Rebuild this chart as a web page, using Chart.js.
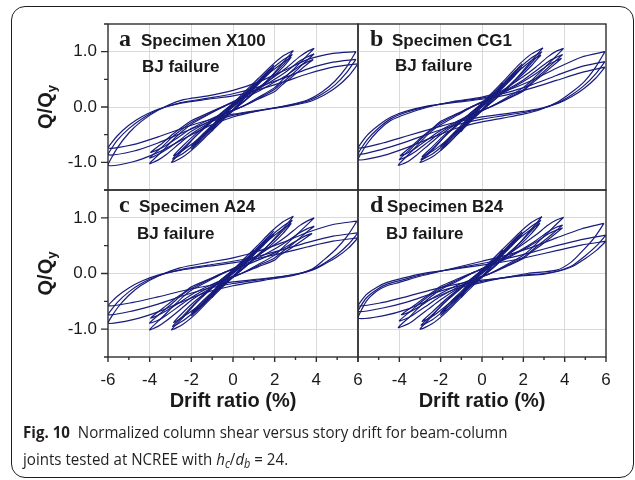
<!DOCTYPE html>
<html>
<head>
<meta charset="utf-8">
<script src="https://cdn.jsdelivr.net/npm/chart.js@4.4.1/dist/chart.umd.min.js"></script>
<style>
  body { margin: 0; width: 635px; height: 480px; background: #fff; position: relative; overflow: hidden; }
  #frame { position: absolute; left: 11px; top: 6px; width: 623px; height: 472px; box-sizing: border-box;
           border: 1px solid #1e1e1e; border-radius: 14px; }
  canvas { position: absolute; }
  #cap { position: absolute; left: 23px; top: 419px; width: 680px; font-family: "Open Sans", sans-serif;
         font-size: 16.5px; line-height: 26.7px; color: #231f20; white-space: nowrap;
         transform: scaleX(0.915); transform-origin: 0 0; }
  #cap b { font-weight: 700; }
  #cap sub { font-size: 0.72em; vertical-align: -0.28em; line-height: 0; }
</style>
</head>
<body>
<div id="frame"></div>
<canvas id="pA" width="380" height="220" style="left:0;top:0"></canvas>
<canvas id="pB" width="290" height="220" style="left:340px;top:0"></canvas>
<canvas id="pC" width="380" height="260" style="left:0;top:160px"></canvas>
<canvas id="pD" width="290" height="260" style="left:340px;top:160px"></canvas>
<div id="cap"><b>Fig. 10</b>&nbsp; Normalized column shear versus story drift for beam-column<br>joints tested at NCREE with <i>h</i><sub><i>c</i></sub>/<i>d</i><sub><i>b</i></sub> = 24.</div>

<script>
// panel labels
const panelLetters = ['a', 'b', 'c', 'd'];
const specimenNames = ['Specimen X100', 'Specimen CG1', 'Specimen A24', 'Specimen B24'];
const failureMode = 'BJ failure';
const xMinorTicks = [-5, -3, -1, 1, 3, 5];

// each loop: drift ratio (%), Q/Qy pairs
const loopsX100 = [
  [1,0.42, 0.85,0.28, 0.5,0.15, 0,0.01, -0.5,-0.14, -1,-0.43, -0.85,-0.28, -0.5,-0.13, 0,0.03, 0.5,0.17, 1,0.42],
  [1,0.4, 0.8,0.27, 0.4,0.13, 0,0, -0.4,-0.13, -1,-0.41, -0.8,-0.27, -0.4,-0.12, 0,0.02, 0.4,0.14, 1,0.4],
  [1.95,0.75, 1.5,0.56, 1,0.35, 0.5,0.15, 0,-0.05, -0.5,-0.21, -1,-0.4, -1.5,-0.59, -2,-0.76, -1.5,-0.55, -1,-0.35, -0.5,-0.15, 0,0.05, 0.5,0.2, 1,0.39, 1.5,0.59, 1.95,0.75],
  [1.95,0.7, 1.5,0.52, 1,0.33, 0.5,0.14, 0,-0.05, -0.5,-0.19, -1,-0.37, -1.5,-0.55, -2,-0.71, -1.5,-0.51, -1,-0.33, -0.5,-0.14, 0,0.05, 0.5,0.19, 1,0.36, 1.5,0.55, 1.95,0.7],
  [2.9,1.02, 2.4,0.8, 1.8,0.54, 1.2,0.32, 0.6,0.12, 0,-0.07, -0.6,-0.28, -1.2,-0.5, -1.8,-0.72, -2.4,-0.9, -2.95,-1, -2.4,-0.78, -1.8,-0.53, -1.2,-0.31, -0.6,-0.12, 0,0.07, 0.6,0.29, 1.2,0.51, 1.8,0.73, 2.4,0.92, 2.9,1.02],
  [2.85,0.95, 2.4,0.76, 1.8,0.53, 1.2,0.33, 0.6,0.13, 0,-0.06, -0.6,-0.25, -1.2,-0.45, -1.8,-0.66, -2.4,-0.84, -2.9,-0.94, -2.4,-0.75, -1.8,-0.53, -1.2,-0.33, -0.6,-0.13, 0,0.06, 0.6,0.26, 1.2,0.46, 1.8,0.67, 2.4,0.85, 2.85,0.95],
  [2.8,0.9, 2.4,0.72, 1.8,0.5, 1.2,0.32, 0.6,0.13, 0,-0.05, -0.6,-0.24, -1.2,-0.42, -1.8,-0.62, -2.4,-0.78, -2.85,-0.88, -2.4,-0.7, -1.8,-0.49, -1.2,-0.31, -0.6,-0.12, 0,0.05, 0.6,0.24, 1.2,0.43, 1.8,0.63, 2.4,0.8, 2.8,0.9],
  [3.9,1.06, 3.4,0.87, 2.9,0.68, 2.4,0.5, 2,0.35, 1.2,0.17, 0.4,0, -0.4,-0.13, -1.2,-0.3, -2,-0.49, -2.6,-0.67, -3.2,-0.86, -3.6,-0.96, -4,-1.02, -3.4,-0.8, -2.9,-0.6, -2.4,-0.43, -2,-0.31, -1.2,-0.14, -0.4,0.02, 0.4,0.17, 1.2,0.35, 2,0.55, 2.6,0.72, 3.2,0.91, 3.6,1.01, 3.9,1.06],
  [3.9,0.96, 3.4,0.79, 2.9,0.61, 2.4,0.45, 2,0.32, 1.2,0.15, 0.4,0, -0.4,-0.12, -1.2,-0.27, -2,-0.44, -2.6,-0.61, -3.2,-0.77, -3.6,-0.86, -4,-0.92, -3.4,-0.72, -2.9,-0.54, -2.4,-0.39, -2,-0.28, -1.2,-0.13, -0.4,0.02, 0.4,0.15, 1.2,0.32, 2,0.5, 2.6,0.65, 3.2,0.83, 3.6,0.91, 3.9,0.96],
  [3.85,0.86, 3.35,0.71, 2.85,0.55, 2.35,0.4, 2,0.28, 1.2,0.14, 0.4,0, -0.4,-0.11, -1.2,-0.24, -2,-0.39, -2.6,-0.54, -3.2,-0.69, -3.6,-0.77, -3.95,-0.82, -3.35,-0.64, -2.85,-0.48, -2.35,-0.34, -2,-0.25, -1.2,-0.11, -0.4,0.02, 0.4,0.14, 1.2,0.28, 2,0.45, 2.6,0.58, 3.2,0.74, 3.6,0.82, 3.85,0.86],
  [5.9,1, 5.45,0.72, 4.9,0.47, 4.3,0.28, 3.6,0.13, 2.6,0.03, 1.2,-0.07, 0,-0.18, -1.2,-0.35, -2.4,-0.58, -3.6,-0.82, -4.8,-0.99, -6,-1.05, -5.55,-0.74, -5,-0.47, -4.4,-0.26, -3.6,-0.06, -2.5,0.12, -1.2,0.2, 0,0.3, 1.2,0.45, 2.4,0.65, 3.6,0.86, 4.8,0.97, 5.9,1],
  [5.9,0.86, 5.45,0.62, 4.9,0.4, 4.3,0.24, 3.6,0.11, 2.6,0.02, 1.2,-0.07, 0,-0.15, -1.2,-0.28, -2.4,-0.46, -3.6,-0.65, -4.8,-0.8, -6,-0.86, -5.55,-0.6, -5,-0.39, -4.4,-0.22, -3.6,-0.05, -2.5,0.08, -1.2,0.16, 0,0.24, 1.2,0.36, 2.4,0.52, 3.6,0.69, 4.8,0.81, 5.9,0.86],
  [6,0.78, 5.55,0.56, 5,0.37, 4.4,0.22, 3.7,0.1, 2.7,0.02, 1.2,-0.06, 0,-0.13, -1.2,-0.24, -2.4,-0.38, -3.6,-0.54, -4.8,-0.68, -6,-0.74, -5.55,-0.52, -5,-0.33, -4.4,-0.18, -3.6,-0.04, -2.5,0.07, -1.2,0.14, 0,0.2, 1.2,0.31, 2.4,0.45, 3.6,0.6, 4.8,0.72, 6,0.78]
];

const loopsCG1 = [
  [1,0.44, 0.85,0.3, 0.5,0.16, 0,0.01, -0.5,-0.15, -1,-0.44, -0.85,-0.29, -0.5,-0.14, 0,0.03, 0.5,0.18, 1,0.44],
  [1,0.41, 0.8,0.28, 0.4,0.13, 0,0, -0.4,-0.13, -1,-0.42, -0.8,-0.28, -0.4,-0.12, 0,0.02, 0.4,0.14, 1,0.41],
  [1.95,0.78, 1.5,0.58, 1,0.37, 0.5,0.16, 0,-0.05, -0.5,-0.21, -1,-0.41, -1.5,-0.61, -2,-0.78, -1.5,-0.56, -1,-0.36, -0.5,-0.16, 0,0.05, 0.5,0.21, 1,0.41, 1.5,0.61, 1.95,0.78],
  [1.95,0.72, 1.5,0.53, 1,0.34, 0.5,0.14, 0,-0.05, -0.5,-0.19, -1,-0.37, -1.5,-0.56, -2,-0.72, -1.5,-0.52, -1,-0.33, -0.5,-0.14, 0,0.05, 0.5,0.19, 1,0.37, 1.5,0.56, 1.95,0.72],
  [2.95,1.07, 2.4,0.84, 1.8,0.57, 1.2,0.33, 0.6,0.13, 0,-0.07, -0.6,-0.28, -1.2,-0.5, -1.8,-0.72, -2.4,-0.9, -3,-1, -2.4,-0.78, -1.8,-0.53, -1.2,-0.31, -0.6,-0.12, 0,0.07, 0.6,0.3, 1.2,0.53, 1.8,0.77, 2.4,0.96, 2.95,1.07],
  [2.9,1, 2.4,0.8, 1.8,0.56, 1.2,0.35, 0.6,0.14, 0,-0.06, -0.6,-0.26, -1.2,-0.46, -1.8,-0.67, -2.4,-0.85, -2.95,-0.95, -2.4,-0.76, -1.8,-0.53, -1.2,-0.33, -0.6,-0.13, 0,0.06, 0.6,0.27, 1.2,0.48, 1.8,0.7, 2.4,0.89, 2.9,1],
  [2.85,0.94, 2.4,0.75, 1.8,0.53, 1.2,0.33, 0.6,0.13, 0,-0.05, -0.6,-0.24, -1.2,-0.43, -1.8,-0.63, -2.4,-0.8, -2.9,-0.9, -2.4,-0.72, -1.8,-0.5, -1.2,-0.32, -0.6,-0.13, 0,0.05, 0.6,0.25, 1.2,0.45, 1.8,0.66, 2.4,0.84, 2.85,0.94],
  [3.95,1.06, 3.45,0.87, 2.95,0.68, 2.45,0.5, 2,0.35, 1.2,0.17, 0.4,0, -0.4,-0.14, -1.2,-0.3, -2,-0.5, -2.6,-0.69, -3.2,-0.88, -3.6,-0.99, -4.05,-1.05, -3.45,-0.82, -2.95,-0.62, -2.45,-0.44, -2,-0.32, -1.2,-0.15, -0.4,0.02, 0.4,0.17, 1.2,0.35, 2,0.55, 2.6,0.72, 3.2,0.91, 3.6,1.01, 3.95,1.06],
  [3.9,0.95, 3.4,0.78, 2.9,0.61, 2.4,0.45, 2,0.31, 1.2,0.15, 0.4,0, -0.4,-0.12, -1.2,-0.28, -2,-0.46, -2.6,-0.63, -3.2,-0.8, -3.6,-0.89, -4,-0.95, -3.4,-0.74, -2.9,-0.56, -2.4,-0.4, -2,-0.29, -1.2,-0.13, -0.4,0.02, 0.4,0.15, 1.2,0.31, 2,0.49, 2.6,0.65, 3.2,0.82, 3.6,0.9, 3.9,0.95],
  [3.85,0.88, 3.35,0.72, 2.85,0.56, 2.35,0.41, 2,0.29, 1.2,0.14, 0.4,0, -0.4,-0.11, -1.2,-0.26, -2,-0.42, -2.6,-0.58, -3.2,-0.74, -3.6,-0.83, -3.95,-0.88, -3.35,-0.69, -2.85,-0.52, -2.35,-0.37, -2,-0.26, -1.2,-0.12, -0.4,0.02, 0.4,0.14, 1.2,0.29, 2,0.46, 2.6,0.6, 3.2,0.76, 3.6,0.84, 3.85,0.88],
  [5.95,1, 5.5,0.72, 4.95,0.46, 4.35,0.27, 3.7,0.1, 2.8,-0.05, 2,-0.13, 1,-0.2, 0,-0.27, -1.2,-0.38, -2.4,-0.55, -3.6,-0.73, -4.8,-0.88, -6,-0.95, -5.55,-0.66, -5,-0.42, -4.4,-0.24, -3.7,-0.13, -2.6,0, -1.4,0.1, 0,0.18, 1.2,0.3, 2.4,0.48, 3.6,0.7, 4.8,0.9, 5.95,1],
  [5.95,0.82, 5.5,0.6, 4.95,0.39, 4.35,0.22, 3.7,0.08, 2.8,-0.04, 2,-0.1, 1,-0.16, 0,-0.22, -1.2,-0.32, -2.4,-0.46, -3.6,-0.62, -4.8,-0.76, -6,-0.85, -5.55,-0.59, -5,-0.38, -4.4,-0.21, -3.7,-0.1, -2.6,0.01, -1.4,0.09, 0,0.16, 1.2,0.26, 2.4,0.4, 3.6,0.57, 4.8,0.73, 5.95,0.82],
  [5.95,0.72, 5.5,0.52, 4.95,0.34, 4.35,0.19, 3.7,0.07, 2.8,-0.03, 2,-0.08, 1,-0.13, 0,-0.18, -1.2,-0.27, -2.4,-0.39, -3.6,-0.52, -4.8,-0.65, -6,-0.74, -5.55,-0.51, -5,-0.33, -4.4,-0.18, -3.7,-0.08, -2.6,0.02, -1.4,0.08, 0,0.14, 1.2,0.22, 2.4,0.34, 3.6,0.48, 4.8,0.62, 5.95,0.72]
];

const loopsA24 = [
  [1,0.42, 0.85,0.28, 0.5,0.15, 0,0.01, -0.5,-0.14, -1,-0.43, -0.85,-0.28, -0.5,-0.13, 0,0.03, 0.5,0.17, 1,0.42],
  [1,0.4, 0.8,0.27, 0.4,0.13, 0,0, -0.4,-0.13, -1,-0.41, -0.8,-0.27, -0.4,-0.12, 0,0.02, 0.4,0.14, 1,0.4],
  [1.95,0.76, 1.5,0.57, 1,0.36, 0.5,0.15, 0,-0.05, -0.5,-0.21, -1,-0.4, -1.5,-0.59, -2,-0.76, -1.5,-0.55, -1,-0.35, -0.5,-0.15, 0,0.05, 0.5,0.21, 1,0.4, 1.5,0.59, 1.95,0.76],
  [1.95,0.7, 1.5,0.52, 1,0.33, 0.5,0.14, 0,-0.05, -0.5,-0.19, -1,-0.37, -1.5,-0.55, -2,-0.71, -1.5,-0.51, -1,-0.33, -0.5,-0.14, 0,0.05, 0.5,0.19, 1,0.36, 1.5,0.55, 1.95,0.7],
  [2.9,1.03, 2.4,0.8, 1.8,0.55, 1.2,0.32, 0.6,0.12, 0,-0.07, -0.6,-0.28, -1.2,-0.5, -1.8,-0.73, -2.4,-0.91, -2.95,-1.01, -2.4,-0.79, -1.8,-0.54, -1.2,-0.31, -0.6,-0.12, 0,0.07, 0.6,0.29, 1.2,0.51, 1.8,0.74, 2.4,0.93, 2.9,1.03],
  [2.85,0.96, 2.4,0.77, 1.8,0.54, 1.2,0.34, 0.6,0.13, 0,-0.06, -0.6,-0.26, -1.2,-0.46, -1.8,-0.67, -2.4,-0.85, -2.9,-0.95, -2.4,-0.76, -1.8,-0.53, -1.2,-0.33, -0.6,-0.13, 0,0.06, 0.6,0.26, 1.2,0.46, 1.8,0.67, 2.4,0.85, 2.85,0.96],
  [2.8,0.9, 2.4,0.72, 1.8,0.5, 1.2,0.32, 0.6,0.13, 0,-0.05, -0.6,-0.24, -1.2,-0.42, -1.8,-0.62, -2.4,-0.78, -2.85,-0.88, -2.4,-0.7, -1.8,-0.49, -1.2,-0.31, -0.6,-0.12, 0,0.05, 0.6,0.24, 1.2,0.43, 1.8,0.63, 2.4,0.8, 2.8,0.9],
  [3.9,1, 3.4,0.82, 2.9,0.64, 2.4,0.47, 2,0.33, 1.2,0.16, 0.4,0, -0.4,-0.13, -1.2,-0.29, -2,-0.48, -2.6,-0.67, -3.2,-0.85, -3.6,-0.95, -4,-1.01, -3.4,-0.79, -2.9,-0.6, -2.4,-0.42, -2,-0.3, -1.2,-0.14, -0.4,0.02, 0.4,0.16, 1.2,0.33, 2,0.52, 2.6,0.68, 3.2,0.86, 3.6,0.95, 3.9,1],
  [3.9,0.85, 3.4,0.7, 2.9,0.54, 2.4,0.4, 2,0.28, 1.2,0.14, 0.4,0, -0.4,-0.12, -1.2,-0.26, -2,-0.43, -2.6,-0.59, -3.2,-0.75, -3.6,-0.84, -4,-0.89, -3.4,-0.69, -2.9,-0.53, -2.4,-0.37, -2,-0.27, -1.2,-0.12, -0.4,0.02, 0.4,0.14, 1.2,0.28, 2,0.44, 2.6,0.58, 3.2,0.73, 3.6,0.81, 3.9,0.85],
  [3.8,0.72, 3.3,0.59, 2.8,0.46, 2.3,0.34, 2,0.24, 1.2,0.12, 0.4,0, -0.4,-0.1, -1.2,-0.23, -2,-0.38, -2.6,-0.53, -3.2,-0.67, -3.6,-0.75, -3.95,-0.8, -3.35,-0.62, -2.85,-0.47, -2.35,-0.34, -2,-0.24, -1.2,-0.11, -0.4,0.02, 0.4,0.12, 1.2,0.24, 2,0.37, 2.6,0.49, 3.2,0.62, 3.55,0.69, 3.8,0.72],
  [5.95,0.94, 5.5,0.68, 4.95,0.44, 4.35,0.24, 3.8,0.08, 2.85,-0.04, 1.5,-0.12, 0,-0.22, -1.2,-0.33, -2.4,-0.5, -3.6,-0.69, -4.8,-0.83, -6,-0.89, -5.55,-0.62, -5,-0.39, -4.4,-0.21, -3.6,-0.05, -2.55,0.1, -1.2,0.2, 0,0.28, 1.2,0.4, 2.4,0.56, 3.6,0.74, 4.8,0.88, 5.95,0.94],
  [6,0.73, 5.55,0.53, 5,0.34, 4.4,0.19, 3.8,0.07, 2.8,-0.03, 1.5,-0.1, 0,-0.18, -1.2,-0.27, -2.4,-0.4, -3.6,-0.55, -4.8,-0.67, -6,-0.74, -5.55,-0.52, -5,-0.33, -4.4,-0.18, -3.6,-0.04, -2.5,0.07, -1.2,0.15, 0,0.22, 1.2,0.31, 2.4,0.43, 3.6,0.56, 4.8,0.67, 6,0.73],
  [6,0.64, 5.55,0.46, 5,0.3, 4.4,0.17, 3.8,0.06, 2.8,-0.03, 1.5,-0.09, 0,-0.15, -1.2,-0.22, -2.4,-0.31, -3.6,-0.42, -4.8,-0.52, -6,-0.58, -5.55,-0.41, -5,-0.26, -4.4,-0.14, -3.6,-0.03, -2.5,0.06, -1.2,0.13, 0,0.19, 1.2,0.27, 2.4,0.37, 3.6,0.48, 4.8,0.58, 6,0.64]
];

const loopsB24 = [
  [1,0.42, 0.85,0.28, 0.5,0.15, 0,0.01, -0.5,-0.14, -1,-0.43, -0.85,-0.28, -0.5,-0.13, 0,0.03, 0.5,0.17, 1,0.42],
  [1,0.4, 0.8,0.27, 0.4,0.13, 0,0, -0.4,-0.13, -1,-0.41, -0.8,-0.27, -0.4,-0.12, 0,0.02, 0.4,0.14, 1,0.4],
  [1.95,0.75, 1.5,0.56, 1,0.35, 0.5,0.15, 0,-0.05, -0.5,-0.2, -1,-0.39, -1.5,-0.59, -2,-0.75, -1.5,-0.54, -1,-0.35, -0.5,-0.15, 0,0.05, 0.5,0.2, 1,0.39, 1.5,0.59, 1.95,0.75],
  [1.95,0.7, 1.5,0.52, 1,0.33, 0.5,0.14, 0,-0.05, -0.5,-0.19, -1,-0.36, -1.5,-0.55, -2,-0.7, -1.5,-0.5, -1,-0.32, -0.5,-0.14, 0,0.05, 0.5,0.19, 1,0.36, 1.5,0.55, 1.95,0.7],
  [2.9,1.02, 2.4,0.8, 1.8,0.54, 1.2,0.32, 0.6,0.12, 0,-0.07, -0.6,-0.28, -1.2,-0.5, -1.8,-0.72, -2.4,-0.9, -3,-1, -2.45,-0.78, -1.85,-0.53, -1.2,-0.31, -0.6,-0.12, 0,0.07, 0.6,0.29, 1.2,0.51, 1.8,0.73, 2.4,0.92, 2.9,1.02],
  [2.85,0.96, 2.4,0.77, 1.8,0.54, 1.2,0.34, 0.6,0.13, 0,-0.06, -0.6,-0.25, -1.2,-0.45, -1.8,-0.65, -2.4,-0.83, -2.95,-0.93, -2.4,-0.74, -1.8,-0.52, -1.2,-0.33, -0.6,-0.13, 0,0.06, 0.6,0.26, 1.2,0.46, 1.8,0.67, 2.4,0.85, 2.85,0.96],
  [2.8,0.9, 2.4,0.72, 1.8,0.5, 1.2,0.32, 0.6,0.13, 0,-0.05, -0.6,-0.23, -1.2,-0.41, -1.8,-0.6, -2.4,-0.77, -2.9,-0.86, -2.4,-0.69, -1.8,-0.48, -1.2,-0.3, -0.6,-0.12, 0,0.05, 0.6,0.24, 1.2,0.43, 1.8,0.63, 2.4,0.8, 2.8,0.9],
  [3.95,1.01, 3.45,0.83, 2.95,0.65, 2.45,0.47, 2,0.33, 1.2,0.16, 0.4,0, -0.4,-0.13, -1.2,-0.28, -2,-0.47, -2.6,-0.64, -3.2,-0.81, -3.6,-0.91, -4.05,-0.97, -3.45,-0.76, -2.95,-0.57, -2.45,-0.41, -2,-0.29, -1.2,-0.14, -0.4,0.02, 0.4,0.16, 1.2,0.33, 2,0.53, 2.6,0.69, 3.2,0.87, 3.6,0.96, 3.95,1.01],
  [3.9,0.87, 3.4,0.71, 2.9,0.56, 2.4,0.41, 2,0.29, 1.2,0.14, 0.4,0, -0.4,-0.11, -1.2,-0.25, -2,-0.41, -2.6,-0.56, -3.2,-0.71, -3.6,-0.8, -4,-0.85, -3.4,-0.66, -2.9,-0.5, -2.4,-0.36, -2,-0.26, -1.2,-0.12, -0.4,0.02, 0.4,0.14, 1.2,0.29, 2,0.45, 2.6,0.59, 3.2,0.75, 3.6,0.83, 3.9,0.87],
  [3.9,0.82, 3.4,0.67, 2.9,0.52, 2.4,0.39, 2,0.27, 1.2,0.13, 0.4,0, -0.4,-0.1, -1.2,-0.21, -2,-0.36, -2.6,-0.49, -3.1,-0.61, -3.5,-0.69, -3.9,-0.74, -3.3,-0.58, -2.8,-0.44, -2.3,-0.31, -2,-0.23, -1.2,-0.1, -0.4,0.02, 0.4,0.13, 1.2,0.27, 2,0.43, 2.6,0.56, 3.2,0.71, 3.6,0.78, 3.9,0.82],
  [5.9,0.9, 5.45,0.65, 4.9,0.42, 4.3,0.2, 3.6,0.06, 2.2,0, 1,-0.08, 0,-0.16, -1.2,-0.27, -2.4,-0.45, -3.6,-0.64, -4.8,-0.76, -6,-0.8, -5.6,-0.5, -5.1,-0.32, -4.6,-0.22, -4,-0.16, -3,-0.05, -1.9,0.05, 0,0.22, 1.2,0.33, 2.4,0.47, 3.6,0.64, 4.8,0.8, 5.9,0.9],
  [6,0.69, 5.55,0.5, 5,0.32, 4.4,0.15, 3.7,0.05, 3,0, 2,-0.03, 1,-0.08, 0,-0.14, -1.2,-0.23, -2.4,-0.36, -3.6,-0.51, -4.8,-0.62, -6,-0.68, -5.6,-0.44, -5.1,-0.29, -4.6,-0.19, -3.8,-0.11, -3,-0.03, -1.9,0.05, 0,0.18, 1.2,0.27, 2.4,0.38, 3.6,0.5, 4.8,0.61, 6,0.69],
  [6,0.58, 5.55,0.42, 5,0.27, 4.4,0.13, 3.7,0.04, 3,-0.01, 2,-0.04, 1,-0.08, 0,-0.12, -1.2,-0.19, -2.4,-0.29, -3.6,-0.41, -4.8,-0.52, -6,-0.58, -5.6,-0.38, -5.1,-0.25, -4.6,-0.16, -3.8,-0.08, -3,-0.01, -1.9,0.05, 0,0.15, 1.2,0.22, 2.4,0.31, 3.6,0.41, 4.8,0.51, 6,0.58]
];

const navy = '#181c7c';
const gridGray = '#d9d9d9';
const inkColor = '#1a1a1a';
const sans = '"Liberation Sans", Arial, sans-serif';

Chart.defaults.font.family = sans;
Chart.defaults.color = inkColor;

function toPoints(flat) {
  const pts = [];
  for (let i = 0; i < flat.length; i += 2) pts.push({x: flat[i], y: flat[i + 1]});
  return pts;
}

// frame, tick marks, y title and panel captions
const panelDecor = {
  id: 'panelDecor',
  afterDraw(chart, args, o) {
    const {ctx, chartArea: a, scales: {x, y}} = chart;
    ctx.save();
    ctx.strokeStyle = '#2e2e2e';
    ctx.lineWidth = 1.4;
    ctx.strokeRect(a.left, a.top, a.right - a.left, a.bottom - a.top);
    ctx.beginPath();
    if (o.left) {
      y.ticks.forEach(t => {
        const py = y.getPixelForValue(t.value);
        const len = Number.isInteger(t.value) ? 7 : 4;
        ctx.moveTo(a.left - len, py); ctx.lineTo(a.left, py);
      });
    }
    if (o.bottom) {
      x.ticks.forEach(t => {
        const px = x.getPixelForValue(t.value);
        ctx.moveTo(px, a.bottom); ctx.lineTo(px, a.bottom + 5);
      });
      xMinorTicks.forEach(v => {
        const px = x.getPixelForValue(v);
        ctx.moveTo(px, a.bottom); ctx.lineTo(px, a.bottom + 3);
      });
    }
    ctx.stroke();

    ctx.fillStyle = inkColor;
    if (o.left) {
      ctx.save();
      ctx.translate(45, (a.top + a.bottom) / 2);
      ctx.rotate(-Math.PI / 2);
      ctx.font = 'bold 20px ' + sans;
      const w1 = ctx.measureText('Q/Q').width;
      ctx.font = 'bold 13px ' + sans;
      const w2 = ctx.measureText('y').width;
      const x0 = -(w1 + w2) / 2;
      ctx.textBaseline = 'alphabetic';
      ctx.font = 'bold 20px ' + sans;
      ctx.fillText('Q/Q', x0, 7);
      ctx.font = 'bold 13px ' + sans;
      ctx.fillText('y', x0 + w1, 11);
      ctx.restore();
    }

    ctx.textBaseline = 'alphabetic';
    ctx.font = 'bold 24px "Liberation Serif", serif';
    ctx.fillText(panelLetters[o.idx], a.left + o.lx, a.top + 21.5);
    ctx.font = 'bold 17px ' + sans;
    ctx.fillText(specimenNames[o.idx], a.left + o.sx, a.top + 21.5);
    ctx.fillText(failureMode, a.left + o.fx, a.top + o.fy);
    ctx.restore();
  }
};

function makePanel(id, loops, o) {
  const datasets = loops.map(l => ({
    data: toPoints(l),
    showLine: true,
    borderColor: navy,
    borderWidth: 1.2,
    pointRadius: 0,
    tension: 0.25
  }));
  return new Chart(document.getElementById(id), {
    type: 'scatter',
    data: {datasets},
    plugins: [panelDecor],
    options: {
      responsive: false,
      animation: false,
      events: [],
      devicePixelRatio: 1,
      layout: {autoPadding: false, padding: o.pad},
      plugins: {legend: {display: false}, tooltip: {enabled: false}, panelDecor: o},
      scales: {
        x: {
          type: 'linear', min: -6, max: 6,
          border: {display: false},
          grid: {drawTicks: false, lineWidth: 1,
                 color: c => Math.abs(c.tick.value) === 6 ? 'rgba(0,0,0,0)' : gridGray},
          ticks: {display: o.bottom, stepSize: 2, padding: 13, maxRotation: 0, autoSkip: false,
                  color: inkColor, font: {size: 17},
                  callback: v => (o.skipFirst && v === -6) ? '' : String(v)},
          title: {display: o.bottom, text: 'Drift ratio (%)', color: inkColor,
                  font: {size: 20, weight: 'bold'}, padding: {top: 0, bottom: 4}},
          afterFit: s => { s.height = o.bottom ? 60 : 0; }
        },
        y: {
          type: 'linear', min: -1.5, max: 1.5,
          border: {display: false},
          grid: {drawTicks: false, lineWidth: 1,
                 color: c => (Number.isInteger(c.tick.value) && Math.abs(c.tick.value) < 1.5) ? gridGray : 'rgba(0,0,0,0)'},
          ticks: {display: o.left, stepSize: 0.5, padding: 11, color: inkColor, font: {size: 17},
                  callback: v => Number.isInteger(v) ? v.toFixed(1) : ''},
          afterFit: s => { s.width = o.left ? 108 : 0; }
        }
      }
    }
  });
}

makePanel('pA', loopsX100, {idx: 0, left: true, bottom: false, pad: {left: 0, top: 24, right: 22, bottom: 30},
  lx: 11, sx: 33, fx: 34, fy: 48});
makePanel('pB', loopsCG1, {idx: 1, left: false, bottom: false, pad: {left: 18, top: 24, right: 24, bottom: 30},
  lx: 12, sx: 34, fx: 37, fy: 47});
makePanel('pC', loopsA24, {idx: 2, left: true, bottom: true, pad: {left: 0, top: 30, right: 22, bottom: 3},
  lx: 11, sx: 31, fx: 29, fy: 49});
makePanel('pD', loopsB24, {idx: 3, left: false, bottom: true, skipFirst: true, pad: {left: 18, top: 30, right: 24, bottom: 3},
  lx: 12, sx: 29, fx: 28, fy: 49});
</script>
</body>
</html>
